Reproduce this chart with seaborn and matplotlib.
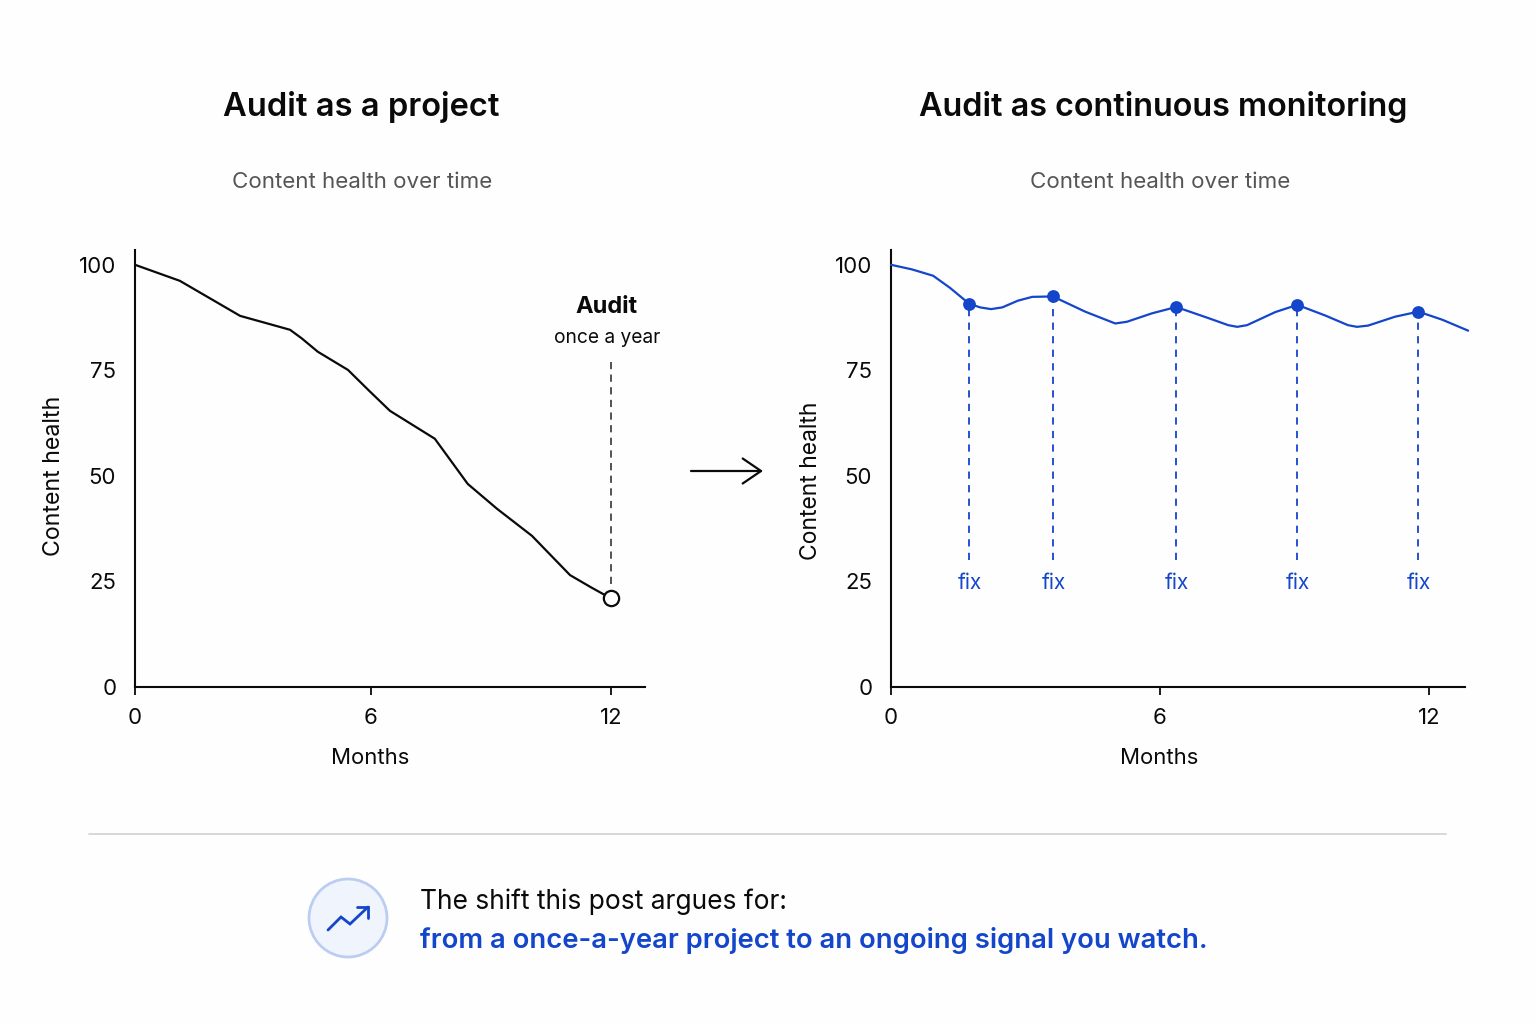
import matplotlib
matplotlib.use("Agg")
import matplotlib.pyplot as plt
from matplotlib.patches import Circle
import pandas as pd
import seaborn as sns

# values
project_months = [0, 1.13, 1.9, 2.65, 3.3, 3.91, 4.2, 4.61, 5.37, 5.9, 6.43, 7.56, 8.39, 9.13, 10.01, 10.97, 11.5, 12]
project_health = [100, 96.2, 92, 87.9, 86.2, 84.6, 82.6, 79.4, 75.1, 70.2, 65.4, 58.8, 48.1, 42.2, 35.8, 26.5, 23.6, 21]

monitor_months = [0, 0.47, 0.94, 1.32, 1.74, 1.99, 2.23, 2.48, 2.83, 3.15, 3.61, 4.33, 5.0, 5.26, 5.82, 6.36,
                  7.07, 7.52, 7.72, 7.94, 8.57, 9.06, 9.68, 10.19, 10.39, 10.64, 11.24, 11.76, 12.29, 12.87]
monitor_health = [100, 98.9, 97.4, 94.5, 90.8, 89.9, 89.5, 89.9, 91.5, 92.4, 92.5, 88.9, 86.1, 86.5, 88.5, 90.0,
                  87.4, 85.7, 85.3, 85.7, 88.8, 90.5, 88.0, 85.7, 85.3, 85.6, 87.7, 88.9, 87.0, 84.4]

fix_months = [1.74, 3.61, 6.36, 9.06, 11.76]
fix_health = [90.8, 92.5, 90.0, 90.5, 88.9]

audit_month = 12
audit_health = 21

INK = "#0a0a0a"
BLUE = "#1446cc"
GREY = "#555555"

sns.set_theme(style="ticks")
plt.rcParams["font.family"] = ["Inter", "DejaVu Sans"]

W, H = 1536, 1024
fig = plt.figure(figsize=(W / 100, H / 100), dpi=100, facecolor="#fefefe")


def add_panel(left, right):
    top, bottom = 250, 687
    ax = fig.add_axes([left / W, 1 - bottom / H, (right - left) / W, (bottom - top) / H])
    ax.set_facecolor("none")
    ax.set_ylim(0, 103.5)
    ax.set_yticks([0, 25, 50, 75, 100])
    ax.tick_params(axis="y", length=0, labelsize=16, pad=13.5, labelcolor=INK)
    ax.tick_params(axis="x", length=6, width=1.3, color=INK, labelsize=16, pad=9, labelcolor=INK)
    sns.despine(ax=ax)
    for side in ["left", "bottom"]:
        ax.spines[side].set_linewidth(1.5)
        ax.spines[side].set_color(INK)
    return ax


# left panel
ax1 = add_panel(135, 645)
df1 = pd.DataFrame({"month": project_months, "health": project_health})
sns.lineplot(data=df1, x="month", y="health", color=INK, linewidth=1.6, ax=ax1, zorder=3)
ax1.set_xlim(0, 12.86)
ax1.set_xticks([0, 5.95, 12])
ax1.set_xticklabels(["0", "6", "12"])
ax1.set_xlabel("")
ax1.set_ylabel("")
ax1.plot([audit_month, audit_month], [audit_health + 3.5, 77], color="#444444", lw=1.3, ls=(0, (4, 3)))
ax1.plot([audit_month], [audit_health], "o", ms=11, mfc="white", mec=INK, mew=1.6, clip_on=False, zorder=4)

# right panel
ax2 = add_panel(891, 1465)
df2 = pd.DataFrame({"month": monitor_months, "health": monitor_health})
sns.lineplot(data=df2, x="month", y="health", color=BLUE, linewidth=1.6, ax=ax2, zorder=3, clip_on=False)
ax2.set_xlim(0, 12.8)
ax2.set_xticks([0, 6, 12])
ax2.set_xticklabels(["0", "6", "12"])
ax2.vlines(fix_months, 30, fix_health, color=BLUE, lw=1.3, linestyles=(0, (4, 3.5)))
df_fix = pd.DataFrame({"month": fix_months, "health": fix_health})
sns.scatterplot(data=df_fix, x="month", y="health", color=BLUE, s=85, linewidth=0, ax=ax2, zorder=4, clip_on=False)
ax2.set_xlabel("")
ax2.set_ylabel("")
for m in fix_months:
    ax2.text(m + 0.02, 24.6, "fix", color=BLUE, fontsize=15, ha="center", va="center")

# everything outside the plots goes on an overlay in pixel coordinates
ov = fig.add_axes([0, 0, 1, 1], facecolor="none")
ov.set_xlim(0, W)
ov.set_ylim(H, 0)
ov.axis("off")

ov.text(361, 107, "Audit as a project", fontsize=23.5, fontweight="semibold", color=INK, ha="center", va="center")
ov.text(1163, 107, "Audit as continuous monitoring", fontsize=23.3, fontweight="semibold", color=INK, ha="center", va="center")
ov.text(362, 182, "Content health over time", fontsize=16.1, color=GREY, ha="center", va="center")
ov.text(1160, 182, "Content health over time", fontsize=16.1, color=GREY, ha="center", va="center")

ov.text(54, 476, "Content health", fontsize=16.7, color=INK, rotation=90, ha="center", va="center")
ov.text(811, 481, "Content health", fontsize=16.5, color=INK, rotation=90, ha="center", va="center")
ov.text(370, 758, "Months", fontsize=15.9, color=INK, ha="center", va="center")
ov.text(1159.5, 758, "Months", fontsize=15.9, color=INK, ha="center", va="center")

ov.text(607, 307, "Audit", fontsize=17, fontweight="bold", color=INK, ha="center", va="center")
ov.text(607, 338, "once a year", fontsize=13.8, color=INK, ha="center", va="center")

ov.annotate("", xy=(763, 471), xytext=(691, 471),
            arrowprops=dict(arrowstyle="->,head_length=1.1,head_width=0.75", color=INK, lw=1.6,
                            shrinkA=0, shrinkB=0))

ov.plot([89, 1446], [833.5, 833.5], color="#d4d4d4", lw=1.3)

ov.add_patch(Circle((348, 918), 39, facecolor="#f0f4fd", edgecolor="#bccdf2", lw=2))
ov.plot([328, 341, 350, 368], [930, 917, 924, 907], color=BLUE, lw=2, solid_joinstyle="miter")
ov.plot([357, 368, 368], [907, 907, 918], color=BLUE, lw=2, solid_joinstyle="miter")

ov.text(420, 902, "The shift this post argues for:", fontsize=19, color=INK, ha="left", va="center")
ov.text(420, 940, "from a once-a-year project to an ongoing signal you watch.", fontsize=19.75,
        fontweight="semibold", color=BLUE, ha="left", va="center")

fig.savefig("out.png", dpi=100, facecolor=fig.get_facecolor())
